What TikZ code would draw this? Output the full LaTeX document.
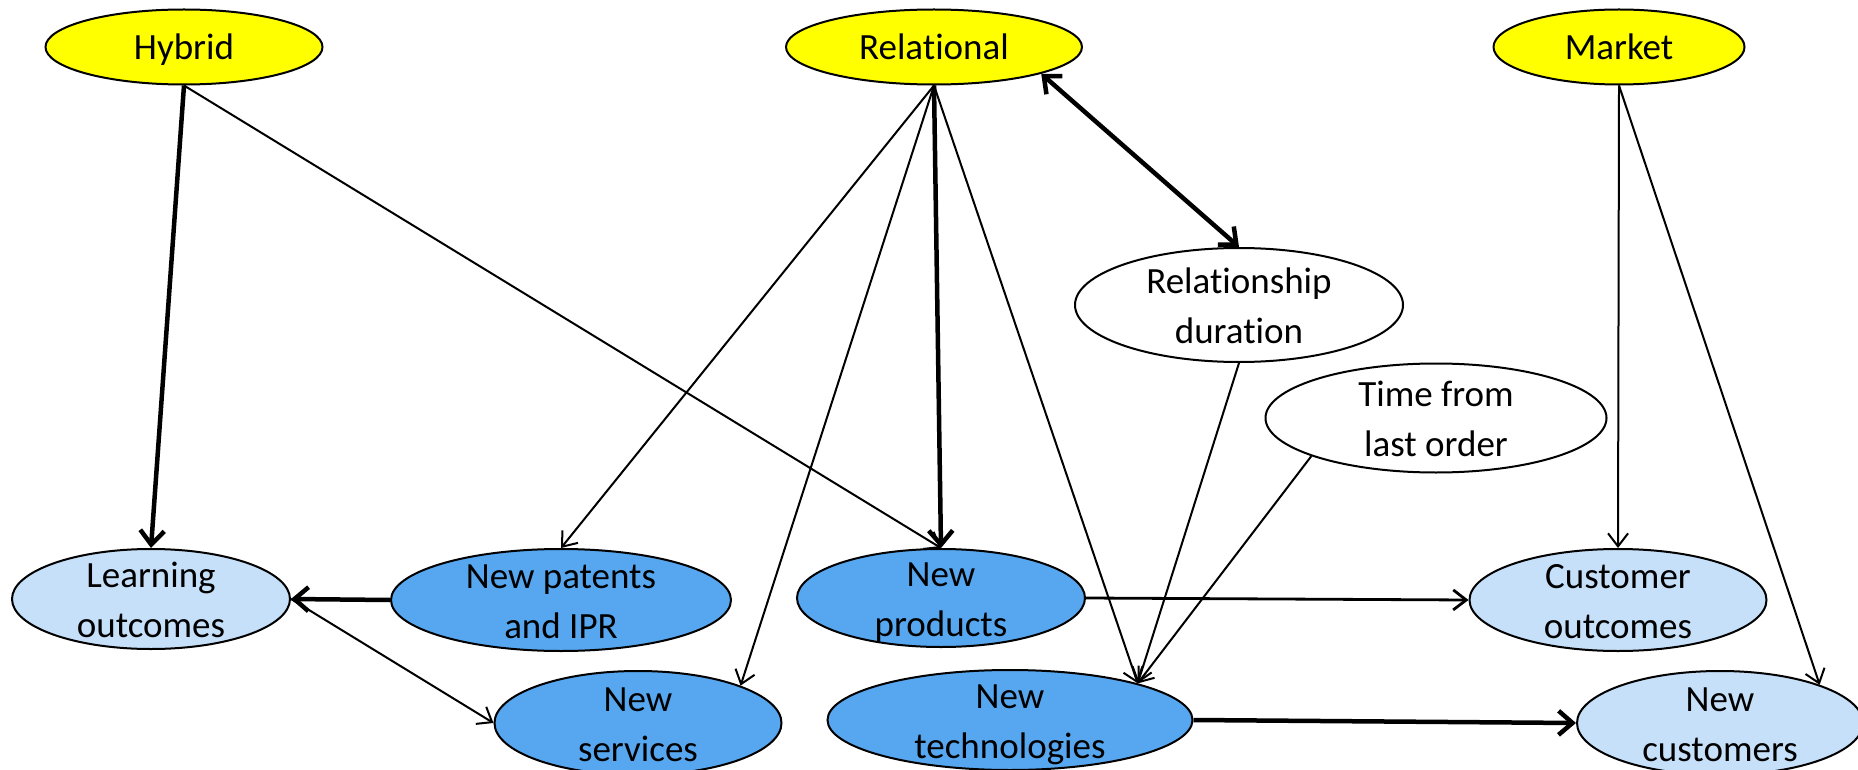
\documentclass[tikz,border=0pt]{standalone}
\usepackage{fontspec}
\setmainfont{Carlito}[Ligatures=NoCommon]
\usetikzlibrary{shapes.geometric,arrows.meta}
\definecolor{govyellow}{RGB}{255,255,0}
\definecolor{outcomeblue}{RGB}{198,224,250}
\definecolor{innovblue}{RGB}{87,167,240}
% line strut: keeps every text line the same height so labels sit centred
\newcommand{\lstrut}{\rule[-12pt]{0pt}{50pt}}
\begin{document}
\begin{tikzpicture}[x=1pt,y=-1pt,
  oval/.style={ellipse, draw=black, line width=2pt, inner sep=0pt},
  txt/.style={align=center, inner sep=0pt, font=\fontsize{37}{50}\selectfont},
  gov/.style={oval, fill=govyellow},
  outc/.style={oval, fill=outcomeblue},
  innov/.style={oval, fill=innovblue},
  ctrl/.style={oval, fill=white},
  thinarrow/.style={line width=2pt, -{Straight Barb[length=13pt,width=20pt]}},
  midarrow/.style={line width=2.8pt, -{Straight Barb[length=13pt,width=20pt]}},
  thickarrow/.style={line width=4.5pt, -{Straight Barb[length=14pt,width=24pt]}},
  botharrow/.style={line width=4.5pt, {Straight Barb[length=14pt,width=24pt]}-{Straight Barb[length=14pt,width=24pt]}}
]
\useasboundingbox (0,0) rectangle (1858,770);

% governance modes
\node[gov, minimum width=277pt, minimum height=75pt,
      label={[txt]center:{\lstrut Hybrid}}] (hyb) at (184,47) {};
\node[gov, minimum width=296pt, minimum height=75pt,
      label={[txt]center:{\lstrut Relational}}] (rel) at (934,47) {};
\node[gov, minimum width=251pt, minimum height=75pt,
      label={[txt]center:{\lstrut Market}}] (mkt) at (1619,47) {};

% control variables
\node[ctrl, minimum width=328pt, minimum height=114pt,
      label={[txt]center:{\lstrut Relationship\\\lstrut duration}}] (rdur) at (1239,305) {};
\node[ctrl, minimum width=341pt, minimum height=109pt,
      label={[txt]center:{\lstrut Time from\\\lstrut last order}}] (tlo) at (1436,418) {};

% outcomes
\node[outc, minimum width=278pt, minimum height=100pt,
      label={[txt]center:{\lstrut Learning\\\lstrut outcomes}}] (learn) at (151,599) {};
\node[innov, minimum width=340pt, minimum height=102pt,
      label={[txt]center:{\lstrut New patents\\\lstrut and IPR}}] (pat) at (561,600) {};
\node[innov, minimum width=288pt, minimum height=98pt,
      label={[txt]center:{\lstrut New\\\lstrut products}}] (prod) at (941,598) {};
\node[outc, minimum width=297pt, minimum height=102pt,
      label={[txt]center:{\lstrut Customer\\\lstrut outcomes}}] (cust) at (1618,600) {};
\node[innov, minimum width=287pt, minimum height=104pt,
      label={[txt]center:{\lstrut New\\\lstrut services}}] (serv) at (638,723) {};
\node[innov, minimum width=365pt, minimum height=100pt,
      label={[txt]center:{\lstrut New\\\lstrut technologies}}] (tech) at (1010,720) {};
\node[outc, minimum width=286pt, minimum height=104pt,
      label={[txt]center:{\lstrut New\\\lstrut customers}}] (ncust) at (1720,723) {};

% links
\draw[thickarrow] (hyb.south) -- (learn.north);
\draw[thinarrow]  (hyb.south) -- (prod.north);
\draw[thinarrow]  (rel.south) -- (pat.north);
\draw[thinarrow]  (rel.south) -- (serv.20);
\draw[thickarrow] (rel.south) -- (prod.north);
\draw[thinarrow]  (rel.south) -- (tech.16);
\draw[botharrow]  (rel.-14) -- (rdur.north);
\draw[thinarrow]  (rdur.south) -- (tech.16);
\draw[thinarrow]  (tlo.197) -- (tech.16);
\draw[thinarrow]  (mkt.south) -- (cust.north);
\draw[thinarrow]  (mkt.south) -- (ncust.21);
\draw[thickarrow] (pat.west) -- (learn.east);
\draw[thinarrow]  (learn.east) -- (serv.west);
\draw[midarrow]   (prod.east) -- (cust.west);
\draw[thickarrow] (tech.east) -- (ncust.west);
\end{tikzpicture}
\end{document}
